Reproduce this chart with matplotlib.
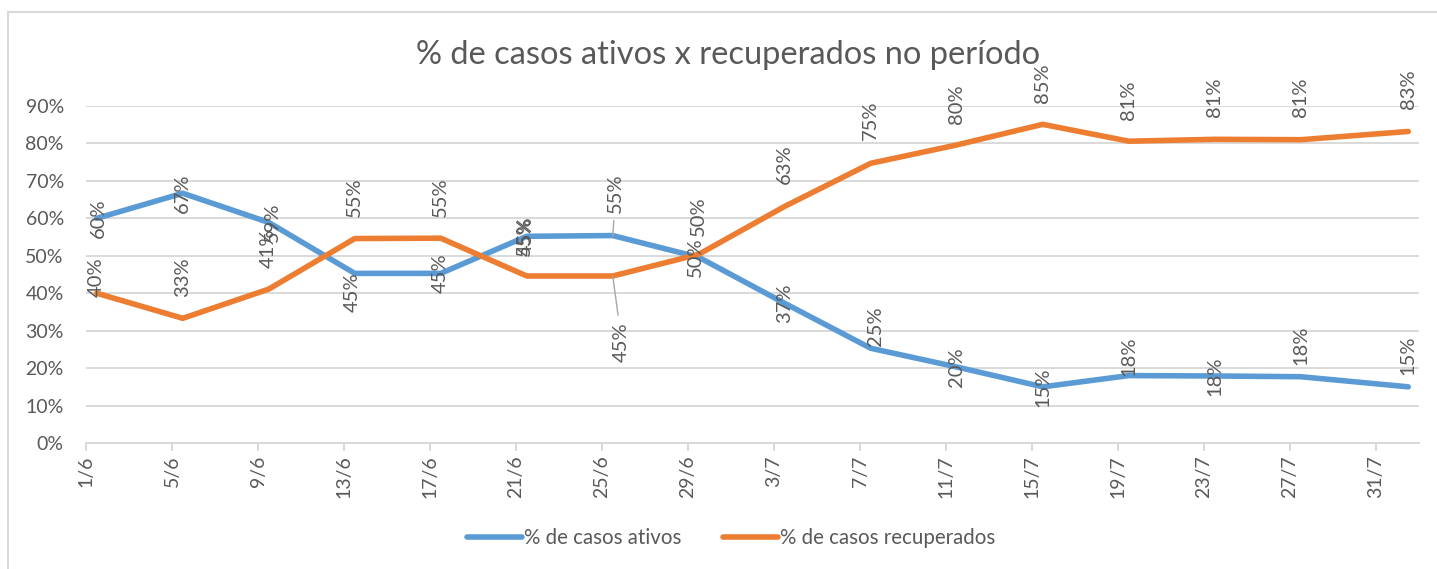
import matplotlib
matplotlib.use("Agg")
import matplotlib.pyplot as plt
from matplotlib.patches import Rectangle
import pandas as pd

# dados
datas = ['2020-06-01', '2020-06-05', '2020-06-09', '2020-06-13', '2020-06-17', '2020-06-21',
         '2020-06-25', '2020-06-29', '2020-07-03', '2020-07-07', '2020-07-11', '2020-07-15',
         '2020-07-19', '2020-07-23', '2020-07-27', '2020-08-01']
ativos = [60.0, 66.7, 58.9, 45.3, 45.3, 55.2, 55.4, 49.6, 37.3, 25.3, 20.3, 15.0, 18.0, 17.9, 17.7, 15.0]
recuperados = [40.0, 33.3, 41.1, 54.6, 54.7, 44.6, 44.6, 50.4, 63.2, 74.7, 79.6, 85.1, 80.6, 81.1, 81.0, 83.2]
y_ticks = [0, 10, 20, 30, 40, 50, 60, 70, 80, 90]

# deslocamento dos rotulos (pixels)
ativos_dy = [0, 0, 0, -19, 0, 0, 42, 0, 0, 22, 0, 0, 19, 0, 31, 32]
ativos_dx = [2, 0, 4, -2, 0, -2, 3, -3, 0, 5, 0, 0, 0, 0, 0, 0]
recup_dy = [16, 41, 41, 41, 41, 40, -66, 38, 42, 43, 41, 41, 41, 42, 42, 42]
recup_dx = [0, 0, 0, 0, 0, 0, 9, 0, 0, 0, 0, 0, 0, 0, 0, 0]
com_guia = [6]

AZUL = '#5B9BD5'
LARANJA = '#ED7D31'
CINZA = '#595959'
GRADE = '#d9d9d9'
FONTE = ['Lato', 'DejaVu Sans']

plt.rcParams['font.family'] = FONTE

W, H = 1437, 569
fig = plt.figure(figsize=(W / 100, H / 100), dpi=100)
ax = fig.add_axes([86 / W, 1 - 443 / H, (1419 - 86) / W, (443 - 106) / H])

# pontos no meio do dia (eixo de datas do Excel)
x = pd.to_datetime(datas) + pd.Timedelta(hours=12)

la, = ax.plot(x, ativos, color=AZUL, lw=4, solid_capstyle='round', solid_joinstyle='round', zorder=3)
lr, = ax.plot(x, recuperados, color=LARANJA, lw=4, solid_capstyle='round', solid_joinstyle='round', zorder=3)

def rotular(vals, dxs, dys):
    for i, v in enumerate(vals):
        kw = {}
        if i in com_guia:
            kw['arrowprops'] = dict(arrowstyle='-', color='#a6a6a6', lw=1, shrinkA=3, shrinkB=0)
        ax.annotate(f"{round(v):.0f}%", xy=(x[i], v), xytext=(dxs[i], dys[i]),
                    textcoords='offset pixels', rotation=90, ha='center', va='center',
                    fontsize=14.5, color=CINZA, zorder=4, annotation_clip=False, **kw)

rotular(ativos, ativos_dx, ativos_dy)
rotular(recuperados, recup_dx, recup_dy)

inicio = pd.Timestamp(datas[0])
ax.set_xlim(inicio, inicio + pd.Timedelta(days=62))
ax.set_ylim(0, 90)
ticks_x = [inicio + pd.Timedelta(days=4 * k) for k in range(16)]
ax.set_xticks(ticks_x)
ax.set_xticklabels([f"{t.day}/{t.month}" for t in ticks_x], rotation=90, va='top', ha='center')
ax.set_yticks(y_ticks)
ax.set_yticklabels([f"{t}%" for t in y_ticks])

ax.yaxis.grid(True, color=GRADE, lw=1.4)
ax.set_axisbelow(True)
for s in ['top', 'right', 'left']:
    ax.spines[s].set_visible(False)
ax.spines['bottom'].set_color(GRADE)
ax.spines['bottom'].set_linewidth(1.4)
ax.tick_params(axis='x', length=6, width=1.4, color=GRADE, labelcolor=CINZA, labelsize=14, pad=3)
ax.tick_params(axis='y', length=0, labelcolor=CINZA, labelsize=14, pad=16)

fig.text(728 / W, 1 - 55 / H, '% de casos ativos x recuperados no período',
         ha='center', va='center', fontsize=23.5, color=CINZA)

leg = fig.legend([la, lr], ['% de casos ativos', '% de casos recuperados'],
                 loc='center', bbox_to_anchor=(731 / W, 1 - 538 / H), ncol=2, frameon=False,
                 fontsize=14.8, handlelength=2.7, handletextpad=0.1, columnspacing=2.0)
for t in leg.get_texts():
    t.set_color(CINZA)

# borda da area do grafico
fig.patches.append(Rectangle((8 / W, -0.1), 1.2, 1.1 - 12 / H, transform=fig.transFigure,
                             fill=False, edgecolor=GRADE, lw=1.5))

fig.savefig('out.png', dpi=100)
